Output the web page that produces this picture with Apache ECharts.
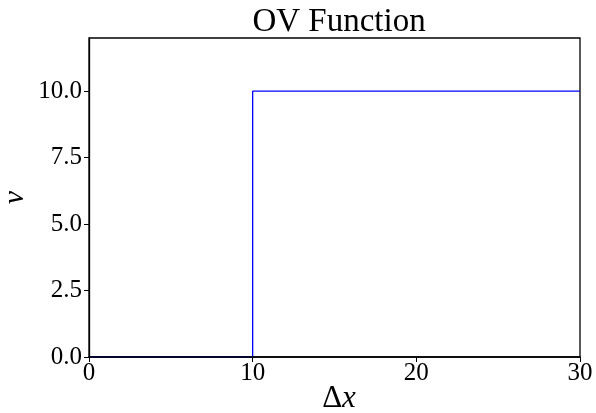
<!DOCTYPE html>
<html><head><meta charset="utf-8">
<script src="https://cdn.jsdelivr.net/npm/echarts@6/dist/echarts.min.js"></script>
<style>html,body{margin:0;padding:0;background:#fff}#c{width:596px;height:413px}</style>
</head><body><div id="c"></div>
<script>
const xValues = [0, 10, 10, 30];
const yValues = [0, 0, 10, 10];
const xTicks = [0, 10, 20, 30];
const yTicks = [0, 2.5, 5, 7.5, 10];

const F = 'Liberation Serif';
const chart = echarts.init(document.getElementById('c'));
chart.setOption({
  animation: false,
  title: [
    {text: 'OV Function', left: 334, textAlign: 'center', top: 1,
      textStyle: {fontFamily: F, fontSize: 33, fontWeight: 'normal', color: '#000'}},
    {text: '{n|Δ}{i|x}', left: 334, textAlign: 'center', top: 378,
      textStyle: {fontWeight: 'normal', rich: {
        n: {fontFamily: F, fontSize: 31, fontWeight: 'normal', color: '#000'},
        i: {fontFamily: F, fontSize: 31, fontWeight: 'normal', fontStyle: 'italic', color: '#000'}}}}
  ],
  grid: {left: 89, right: 16, top: 38, bottom: 56, show: true, borderColor: '#000', borderWidth: 1.3,
    outerBoundsMode: 'none', containLabel: false},
  xAxis: {type: 'value', min: 0, max: 30, interval: 10, z: 5,
    axisLine: {lineStyle: {color: '#000', width: 1.5}},
    axisTick: {length: 5, lineStyle: {color: '#000'}, customValues: xTicks},
    splitLine: {show: false},
    axisLabel: {fontFamily: F, fontSize: 25, color: '#000', margin: 4, customValues: xTicks,
      formatter: v => String(v)}},
  yAxis: {type: 'value', min: 0, max: 12, interval: 2.5, z: 5,
    name: 'v', nameLocation: 'middle', nameGap: 59, nameRotate: 90, nameMoveOverlap: false,
    nameTextStyle: {fontFamily: F, fontSize: 30, fontStyle: 'italic', color: '#000'},
    axisLine: {lineStyle: {color: '#000', width: 1.3}},
    axisTick: {length: 5, lineStyle: {color: '#000'}, customValues: yTicks},
    splitLine: {show: false},
    axisLabel: {fontFamily: F, fontSize: 25, color: '#000', margin: 7, customValues: yTicks,
      formatter: v => v.toFixed(1)}},
  series: [{type: 'line', data: xValues.map((x, i) => [x, yValues[i]]), showSymbol: false,
    lineStyle: {color: '#0000ff', width: 1.3}, z: 1}]
});
</script></body></html>
